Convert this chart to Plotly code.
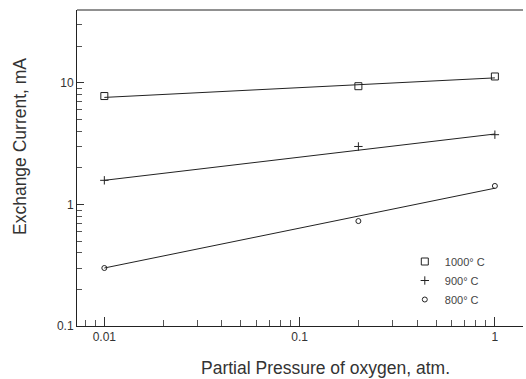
import plotly.graph_objects as go

pressure = [0.01, 0.2, 1.0]
i_1000 = [7.8, 9.4, 11.3]
i_900 = [1.58, 3.0, 3.75]
i_800 = [0.30, 0.73, 1.42]

fit_x = [0.01, 1.0]
fit_1000 = [7.6, 11.0]
fit_900 = [1.58, 3.8]
fit_800 = [0.30, 1.36]

labels = ["1000° C", "900° C", "800° C"]
symbols = ["square-open", "cross-thin-open", "circle-open"]
sizes = [7, 6, 5]

fig = go.Figure()
for fy in [fit_1000, fit_900, fit_800]:
    fig.add_trace(go.Scatter(x=fit_x, y=fy, mode="lines",
                             line=dict(color="#222", width=1), showlegend=False,
                             hoverinfo="skip"))
for ys, lab, sym, sz in zip([i_1000, i_900, i_800], labels, symbols, sizes):
    fig.add_trace(go.Scatter(x=pressure, y=ys, mode="markers", name=lab,
                             marker=dict(symbol=sym, size=sz, color="#222",
                                         line=dict(width=1, color="#222"))))

fig.update_layout(
    template="none",
    width=526, height=379,
    margin=dict(l=77, r=3, t=10, b=53),
    paper_bgcolor="white", plot_bgcolor="white",
    font=dict(family="Liberation Sans, Arial, sans-serif", color="#333", size=12),
    legend=dict(x=0.735, y=0.25, xanchor="left", yanchor="top",
                bgcolor="rgba(0,0,0,0)", font=dict(size=11, color="#444"), itemwidth=30,
                tracegroupgap=2),
    xaxis=dict(type="log", range=[-2.14, 0.144], showgrid=False, zeroline=False,
               showline=True, linecolor="#222", linewidth=1, mirror=False,
               ticks="inside", ticklen=9, tickcolor="#333",
               tickvals=[0.01, 0.1, 1], ticktext=["0.01", "0.1", "1"],
               minor=dict(ticks="inside", ticklen=6, tickcolor="#555", dtick="D1",
                          showgrid=False)),
    yaxis=dict(type="log", range=[-1, 1.6], showgrid=False, zeroline=False,
               showline=True, linecolor="#222", linewidth=1,
               ticks="inside", ticklen=7, tickcolor="#333",
               tickvals=[0.1, 1, 10], ticktext=["0.1", "1", "10"],
               minor=dict(ticks="inside", ticklen=5, tickcolor="#555", dtick="D1",
                          showgrid=False)),
    shapes=[dict(type="line", xref="paper", yref="paper", x0=0, x1=1, y0=1, y1=1,
                 line=dict(color="#222", width=1))],
    annotations=[
        dict(text="Partial Pressure of oxygen, atm.", xref="paper", yref="paper",
             x=(325 - 77) / 446, y=-(368 - 326) / 316, xanchor="center", yanchor="middle",
             showarrow=False, font=dict(size=17.5, color="#333")),
        dict(text="Exchange Current, mA", xref="paper", yref="paper",
             x=-(77 - 20) / 446, y=(326 - 147) / 316, xanchor="center", yanchor="middle",
             textangle=-90, showarrow=False, font=dict(size=17.5, color="#333")),
    ],
)

fig.write_html("out.html", config={"displayModeBar": False},
               post_script="document.body.style.margin='0';document.body.style.overflow='hidden';")
